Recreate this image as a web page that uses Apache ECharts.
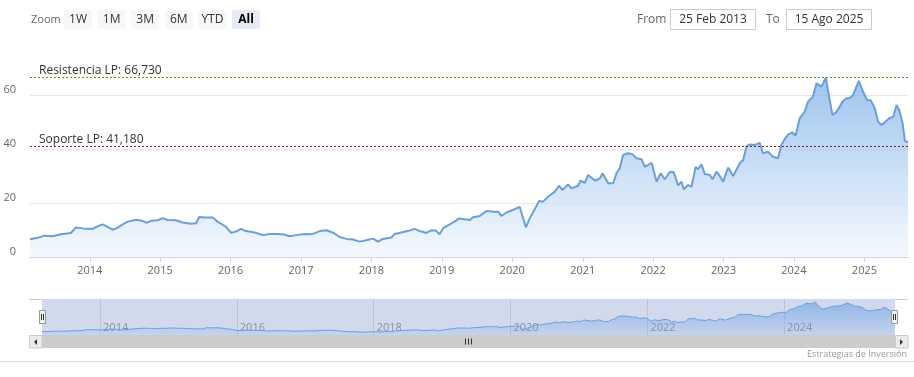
<!DOCTYPE html>
<html>
<head>
<meta charset="utf-8">
<script src="https://cdn.jsdelivr.net/npm/echarts@6/dist/echarts.min.js"></script>
<style>
  html, body { margin: 0; padding: 0; background: #fff; }
  #chart { width: 914px; height: 377px; }
</style>
</head>
<body>
<div id="chart"></div>
<script>
// fechas y cotizacion
var dates = ['2013-02-25','2013-04-05','2013-05-10','2013-06-22','2013-08-04','2013-09-25','2013-10-21','2013-11-25',
  '2014-01-16','2014-02-02','2014-03-08','2014-03-25','2014-04-29','2014-05-26','2014-06-21','2014-07-17','2014-07-25','2014-08-29','2014-10-03','2014-10-20','2014-11-15','2014-12-19',
  '2015-01-14','2015-02-09','2015-03-24','2015-04-28','2015-06-10','2015-07-06','2015-07-23','2015-08-18','2015-09-30','2015-10-26','2015-12-08',
  '2016-01-03','2016-01-29','2016-02-24','2016-03-21','2016-05-05','2016-06-18','2016-07-22','2016-08-26','2016-09-29','2016-11-03','2016-12-08',
  '2017-01-20','2017-02-24','2017-04-08','2017-05-13','2017-06-16','2017-07-20','2017-08-24','2017-09-27','2017-11-01','2017-12-05',
  '2018-01-09','2018-02-04','2018-03-01','2018-04-14','2018-05-01','2018-06-05','2018-07-09','2018-08-13','2018-09-08','2018-10-13','2018-11-07','2018-12-03','2018-12-20',
  '2019-01-07','2019-02-11','2019-03-08','2019-03-31','2019-04-29','2019-05-26','2019-06-12','2019-07-17','2019-08-20','2019-09-24','2019-10-20','2019-11-06','2019-12-02',
  '2020-01-05','2020-02-09','2020-02-18','2020-03-12','2020-04-01','2020-04-27','2020-05-19','2020-06-09','2020-07-05','2020-08-09','2020-08-31','2020-09-18','2020-10-17','2020-11-04','2020-12-08','2020-12-20',
  '2021-01-12','2021-01-29','2021-02-07','2021-03-05','2021-03-31','2021-04-14','2021-05-13','2021-06-08','2021-06-25','2021-07-12','2021-07-29','2021-08-24','2021-09-16','2021-10-07','2021-11-02','2021-11-19','2021-12-24',
  '2022-01-19','2022-02-09','2022-03-03','2022-03-29','2022-04-18','2022-05-11','2022-05-28','2022-06-09','2022-07-01','2022-07-19','2022-08-10','2022-08-22','2022-09-09','2022-09-26','2022-10-22','2022-11-05','2022-11-26','2022-12-09','2022-12-30',
  '2023-01-25','2023-02-20','2023-03-27','2023-04-13','2023-05-01','2023-05-18','2023-06-13','2023-07-08','2023-07-25','2023-08-20','2023-09-15','2023-10-11','2023-10-28','2023-11-14','2023-12-01','2023-12-24',
  '2024-01-10','2024-01-31','2024-02-26','2024-03-14','2024-04-09','2024-04-27','2024-05-23','2024-06-15','2024-06-27','2024-07-19','2024-08-09','2024-08-26','2024-09-09','2024-09-30','2024-10-17','2024-11-03','2024-12-03','2024-12-25',
  '2025-01-15','2025-02-02','2025-02-24','2025-03-13','2025-03-31','2025-04-17','2025-05-10','2025-05-31','2025-06-17','2025-07-01','2025-07-18','2025-07-30','2025-08-08','2025-08-15'];

var prices = [6.6,7.1,7.9,7.7,8.4,8.9,10.9,10.6,
  10.4,11.1,12.1,11.5,10.1,10.9,12.1,13.1,13.8,13.8,13.3,12.7,13.4,13.6,
  14.4,13.7,13.6,12.8,12.3,12.5,14.8,14.6,14.6,13.1,11.2,
  9.0,9.4,10.4,9.6,9.1,8.1,8.5,8.5,8.4,7.7,8.1,
  8.5,8.4,9.6,9.9,9.0,7.4,6.7,6.5,5.7,6.2,
  6.8,5.7,6.7,7.2,8.5,9.1,9.6,10.4,9.6,8.9,9.9,9.7,8.4,
  10.6,12.1,13.1,14.3,14.0,13.7,14.7,15.2,17.0,16.8,16.8,15.2,16.5,
  17.4,18.6,16.4,11.0,14.3,17.7,20.7,20.5,22.3,24.2,26.4,24.8,26.9,25.4,26.4,28.3,
  27.5,30.4,31.0,28.3,29.1,31.0,27.3,27.3,31.0,32.9,37.8,38.4,38.1,36.6,36.2,33.4,34.9,
  27.9,31.0,28.8,31.6,31.4,26.5,27.9,25.1,26.7,26.0,33.4,32.5,34.3,30.7,30.4,28.8,31.6,30.4,27.9,
  33.1,30.0,34.7,35.9,41.1,41.7,41.5,42.3,38.4,39.0,37.1,36.6,41.5,43.6,45.2,46.2,
  44.9,51.4,53.8,57.5,59.4,64.3,63.1,66.4,61.2,52.6,53.8,55.7,57.5,58.8,58.8,60.0,65.2,61.2,
  58.1,58.1,55.1,50.1,48.9,49.9,51.4,52.0,56.3,54.4,49.5,43.0,42.7,42.5];

// soporte / resistencia
var levelNames = ['Resistencia LP', 'Soporte LP'];
var levelValues = [66.73, 41.18];

var mainYears = [2014,2015,2016,2017,2018,2019,2020,2021,2022,2023,2024,2025];
var navYears = [2014,2016,2018,2020,2022,2024];
var zoomButtons = ['1W','1M','3M','6M','YTD','All'];
var rangeFrom = '25 Feb 2013';
var rangeTo = '15 Ago 2025';

function toTime(s) {
  var p = s.split('-');
  return new Date(+p[0], +p[1] - 1, +p[2]).getTime();
}
function yearTime(y) { return new Date(y, 0, 1).getTime(); }
function yearLabel(v) { return String(new Date(v + 43200000).getFullYear()); }

var seriesData = [];
for (var i = 0; i < dates.length; i++) {
  seriesData.push([toTime(dates[i]), prices[i]]);
}
var tMin = toTime(dates[0]);
var tMax = toTime(dates[dates.length - 1]);

var fontFam = '"Open Sans", "DejaVu Sans", sans-serif';

var myChart = echarts.init(document.getElementById('chart'));

// botones y rango de fechas
var graphics = [];
function label(x, y, txt, color, font, align) {
  return { type: 'text', x: x, y: y, style: { text: txt, fill: color, font: font,
    textAlign: align || 'left', align: align || 'left', textVerticalAlign: 'middle', verticalAlign: 'middle' } };
}
graphics.push(label(31, 19.5, 'Zoom', '#666', '11px ' + fontFam));
zoomButtons.forEach(function (b, i) {
  var bx = 64 + i * 33.6;
  var sel = (b === 'All');
  graphics.push({ type: 'rect', x: bx, y: 10, shape: { width: 28, height: 19, r: 2 },
    style: { fill: sel ? '#e6ebf5' : '#f7f7f7' } });
  graphics.push(label(bx + 14, 19.5, b, sel ? '#000' : '#333', (sel ? 'bold ' : '') + '12px ' + fontFam, 'center'));
});
graphics.push(label(637, 19.5, 'From', '#666', '12px ' + fontFam));
graphics.push({ type: 'rect', x: 670.5, y: 9.5, shape: { width: 85, height: 20 }, style: { fill: '#fff', stroke: '#cccccc', lineWidth: 1 } });
graphics.push(label(713, 19.5, rangeFrom, '#333', '12px ' + fontFam, 'center'));
graphics.push(label(766, 19.5, 'To', '#666', '12px ' + fontFam));
graphics.push({ type: 'rect', x: 786.5, y: 9.5, shape: { width: 85, height: 20 }, style: { fill: '#fff', stroke: '#cccccc', lineWidth: 1 } });
graphics.push(label(829, 19.5, rangeTo, '#333', '12px ' + fontFam, 'center'));

// navegador: contorno y manijas
graphics.push({ type: 'line', shape: { x1: 29, y1: 299.5, x2: 42, y2: 299.5 }, style: { stroke: '#cccccc', lineWidth: 1 } });
graphics.push({ type: 'line', shape: { x1: 895, y1: 299.5, x2: 908, y2: 299.5 }, style: { stroke: '#cccccc', lineWidth: 1 } });
[39.5, 891.5].forEach(function (hx) {
  graphics.push({ type: 'rect', x: hx, y: 310.5, shape: { width: 6, height: 13 }, style: { fill: '#f2f2f2', stroke: '#999999', lineWidth: 1 }, z: 10 });
  graphics.push({ type: 'line', shape: { x1: hx + 2, y1: 314, x2: hx + 2, y2: 320 }, style: { stroke: '#333', lineWidth: 1 }, z: 11 });
  graphics.push({ type: 'line', shape: { x1: hx + 4, y1: 314, x2: hx + 4, y2: 320 }, style: { stroke: '#333', lineWidth: 1 }, z: 11 });
});
// barra de desplazamiento
graphics.push({ type: 'rect', x: 29.5, y: 335.5, shape: { width: 12.5, height: 12.5 }, style: { fill: '#ebebeb', stroke: '#cccccc', lineWidth: 1 } });
graphics.push({ type: 'polygon', shape: { points: [[37, 339], [37, 345], [34, 342]] }, style: { fill: '#333' } });
graphics.push({ type: 'rect', x: 42, y: 335, shape: { width: 853, height: 13 }, style: { fill: '#cccccc' } });
graphics.push({ type: 'rect', x: 895.5, y: 335.5, shape: { width: 12.5, height: 12.5 }, style: { fill: '#ebebeb', stroke: '#cccccc', lineWidth: 1 } });
graphics.push({ type: 'polygon', shape: { points: [[900, 339], [900, 345], [903, 342]] }, style: { fill: '#333' } });
[465.5, 468.5, 471.5].forEach(function (gx) {
  graphics.push({ type: 'line', shape: { x1: gx, y1: 338.5, x2: gx, y2: 344.5 }, style: { stroke: '#333', lineWidth: 1 } });
});
graphics.push({ type: 'line', shape: { x1: 0, y1: 361.5, x2: 914, y2: 361.5 }, style: { stroke: '#d8d8d8', lineWidth: 1 } });
graphics.push(label(907, 354, 'Estrategias de Inversión', '#999', '9px ' + fontFam, 'right'));

var levelColors = ['#4e9a2e', '#8b1a1a'];

option = {
  animation: false,
  backgroundColor: '#fff',
  textStyle: { fontFamily: fontFam },
  grid: [
    { left: 30, right: 6, top: 54.5, height: 202.5 },
    { left: 42, right: 19, top: 299, height: 36, show: true, backgroundColor: 'rgba(102,133,194,0.3)', borderWidth: 0 }
  ],
  xAxis: [
    {
      type: 'value', gridIndex: 0, min: tMin, max: tMax, scale: true,
      axisLine: { show: true, onZero: false, lineStyle: { color: '#ccd6eb' } },
      axisTick: { show: true, length: 5, lineStyle: { color: '#ccd6eb' }, customValues: mainYears.map(yearTime) },
      axisLabel: { color: '#666', fontSize: 11, margin: 8, customValues: mainYears.map(yearTime), formatter: yearLabel },
      splitLine: { show: false }
    },
    {
      type: 'value', gridIndex: 1, min: tMin, max: tMax, scale: true,
      axisLine: { show: false, onZero: false },
      axisTick: { show: false, customValues: navYears.map(yearTime) },
      axisLabel: { inside: true, color: '#8a8f99', fontSize: 11, margin: 2, align: 'left', padding: [0, 0, 0, 3],
        customValues: navYears.map(yearTime), formatter: yearLabel },
      splitLine: { show: true, lineStyle: { color: 'rgba(150,160,180,0.35)' } }
    }
  ],
  yAxis: [
    {
      type: 'value', gridIndex: 0, min: 0, max: 75, interval: 20,
      axisLine: { show: false }, axisTick: { show: false },
      axisLabel: { color: '#666', fontSize: 11, margin: 14, verticalAlign: 'bottom', showMaxLabel: false },
      splitLine: { showMaxLine: false, lineStyle: { color: '#e6e6e6' } }
    },
    {
      type: 'value', gridIndex: 1, min: 0, max: 73,
      show: false, splitLine: { show: false }
    }
  ],
  series: [
    {
      type: 'line', xAxisIndex: 0, yAxisIndex: 0, data: seriesData,
      showSymbol: false, symbol: 'none',
      lineStyle: { color: '#6b9fd6', width: 2 },
      areaStyle: {
        color: { type: 'linear', x: 0, y: 54, x2: 0, y2: 257, global: true,
          colorStops: [{ offset: 0, color: 'rgb(100,162,230)' }, { offset: 1, color: 'rgb(242,247,253)' }] }
      },
      markLine: {
        symbol: 'none', silent: true,
        data: levelValues.map(function (v, i) {
          return {
            yAxis: v,
            lineStyle: { color: levelColors[i], type: [2, 2], width: 1 },
            label: {
              show: true, position: 'insideStartTop', distance: [9, 0],
              color: '#333', fontSize: 12, lineHeight: 12,
              formatter: levelNames[i] + ': ' + v.toFixed(3).replace('.', ',')
            }
          };
        })
      }
    },
    {
      type: 'line', xAxisIndex: 1, yAxisIndex: 1, data: seriesData,
      showSymbol: false, symbol: 'none',
      lineStyle: { color: '#6f9fdc', width: 1 },
      areaStyle: {
        color: { type: 'linear', x: 0, y: 0, x2: 0, y2: 1,
          colorStops: [{ offset: 0, color: 'rgba(95,155,228,0.8)' }, { offset: 1, color: 'rgba(95,155,228,0.15)' }] }
      }
    }
  ],
  graphic: graphics
};
myChart.setOption(option);
</script>
</body>
</html>
